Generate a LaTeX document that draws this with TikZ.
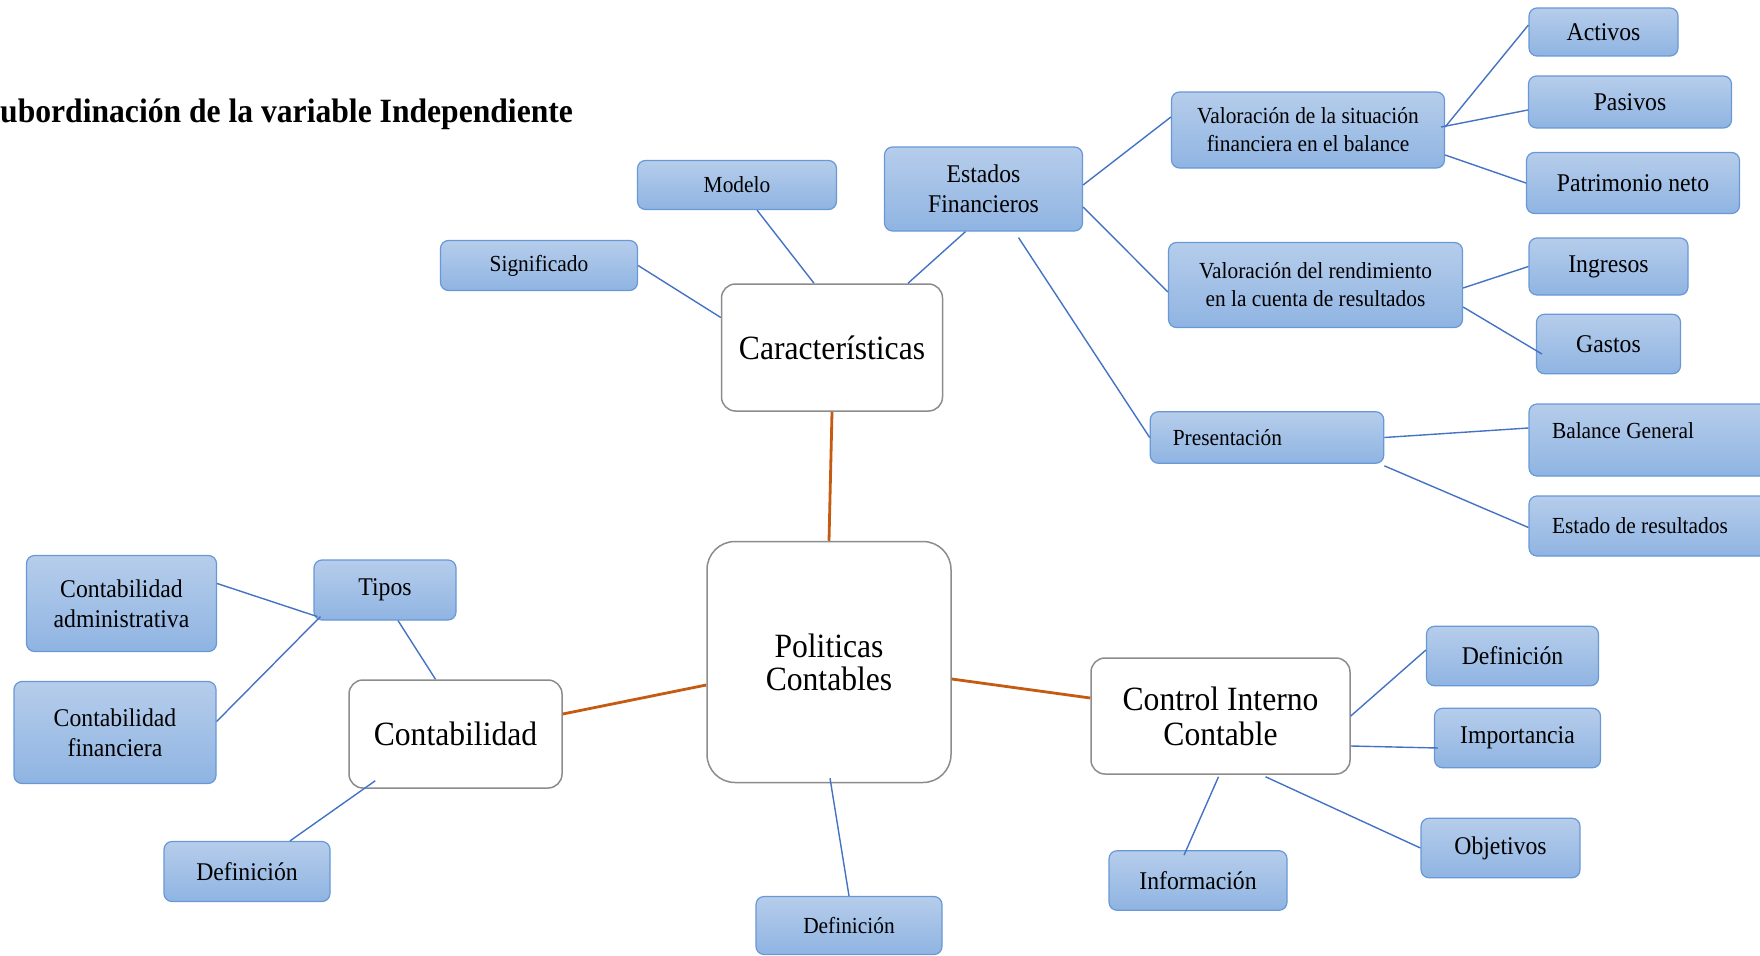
\documentclass[tikz,border=0pt]{standalone}
\usepackage{fontspec}
\setmainfont[FakeStretch=0.93]{Liberation Serif}
\definecolor{hojaborde}{RGB}{104,152,214}
\definecolor{hojaarriba}{RGB}{182,205,235}
\definecolor{hojaabajo}{RGB}{143,180,226}
\definecolor{ramaazul}{RGB}{68,114,196}
\definecolor{tronconaranja}{RGB}{197,90,17}
\definecolor{temaborde}{RGB}{140,140,140}
\begin{document}
\begin{tikzpicture}[x=1pt,y=-1pt]
		\tikzset{hoja/.style = {draw=hojaborde,line width=1.2pt,rounded corners=8pt,top color=hojaarriba,bottom color=hojaabajo,inner sep=0pt,align=center,font=\fontsize{25.5}{30}\selectfont}}
		\tikzset{chica/.style = {font=\fontsize{23}{28}\selectfont}}
		\tikzset{tema/.style = {draw=temaborde,line width=1.5pt,rounded corners=14pt,fill=white,inner sep=0pt,align=center,font=\fontsize{34}{35}\selectfont}}
		\tikzset{rama/.style = {draw=ramaazul,line width=1.4pt}}
		\tikzset{tronco/.style = {draw=tronconaranja,line width=2.8pt}}
		\useasboundingbox (0,0) rectangle (1760,955);
		\node[anchor=base west,inner sep=0pt,font=\fontsize{34}{40}\selectfont\bfseries] (titulo) at (0,122) {ubordinación de la variable Independiente};
		\node[tema,rounded corners=28pt,minimum width=244pt,minimum height=241pt,font=\fontsize{34}{33}\selectfont] (politicas) at (829,662) {Politicas\\Contables};
		\node[tema,minimum width=221pt,minimum height=127pt] (carac) at (832,347.5) {Características};
		\node[tema,minimum width=213pt,minimum height=108pt] (contab) at (455.5,734) {Contabilidad};
		\node[tema,minimum width=259pt,minimum height=116pt] (control) at (1220.5,716) {Control Interno\\Contable};
		\node[hoja,chica,minimum width=199pt,minimum height=49pt] (modelo) at (737,185) {Modelo};
		\node[hoja,chica,minimum width=197pt,minimum height=50pt] (signif) at (539,265.5) {Significado};
		\node[hoja,minimum width=198pt,minimum height=84pt] (estados) at (983.5,189) {Estados\\Financieros};
		\node[hoja,chica,minimum width=273pt,minimum height=76pt] (valsit) at (1308,130) {Valoración de la situación\\financiera en el balance};
		\node[hoja,chica,minimum width=294pt,minimum height=85pt] (valrend) at (1315.5,285) {Valoración del rendimiento\\en la cuenta de resultados};
		\node[hoja,chica,align=flush left,text width=188.5pt,minimum width=233.5pt,minimum height=51.5pt] (present) at (1267,437.5) {Presentación};
		\node[hoja,minimum width=149pt,minimum height=48pt] (activos) at (1603.5,32) {Activos};
		\node[hoja,minimum width=203pt,minimum height=52pt] (pasivos) at (1630,102) {Pasivos};
		\node[hoja,minimum width=213pt,minimum height=61pt] (patrimonio) at (1633,183) {Patrimonio neto};
		\node[hoja,minimum width=159pt,minimum height=57pt] (ingresos) at (1608.5,266.5) {Ingresos};
		\node[hoja,minimum width=144pt,minimum height=59.5pt] (gastos) at (1608.5,344) {Gastos};
		\node[hoja,chica,align=flush left,text width=215pt,text height=16pt,text depth=19pt,minimum width=261pt,minimum height=72pt] (balance) at (1659.5,440) {Balance General};
		\node[hoja,chica,align=flush left,text width=215pt,minimum width=261pt,minimum height=60pt] (estado) at (1659.5,526) {Estado de resultados};
		\node[hoja,minimum width=142pt,minimum height=60pt] (tipos) at (385,590) {Tipos};
		\node[hoja,minimum width=190pt,minimum height=96pt] (admin) at (121.5,603.5) {Contabilidad\\administrativa};
		\node[hoja,minimum width=202pt,minimum height=102pt] (financiera) at (115,732.5) {Contabilidad\\financiera};
		\node[hoja,minimum width=166pt,minimum height=60pt] (defcontab) at (247,871.5) {Definición};
		\node[hoja,chica,minimum width=186pt,minimum height=58pt] (defpolit) at (849,925.5) {Definición};
		\node[hoja,minimum width=172pt,minimum height=59.5pt] (defcontrol) at (1512.5,656) {Definición};
		\node[hoja,minimum width=166pt,minimum height=59.5pt] (importancia) at (1517.5,738) {Importancia};
		\node[hoja,minimum width=159pt,minimum height=59.5pt] (objetivos) at (1500.5,848) {Objetivos};
		\node[hoja,minimum width=178pt,minimum height=59.5pt] (informacion) at (1198,880.5) {Información};
		\path[tronco] (carac.south) edge (politicas.north);
		\path[tronco] ([yshift=-23pt]politicas.west) edge ([yshift=20pt]contab.east);
		\path[tronco] ([yshift=-17pt]politicas.east) edge ([yshift=18pt]control.west);
		\path[rama] ([xshift=-18pt]carac.north) edge ([xshift=20pt]modelo.south);
		\path[rama] ([yshift=30pt]carac.west) edge (signif.east);
		\path[rama] ([xshift=76pt]carac.north) edge ([xshift=-18pt]estados.south);
		\path[rama] ([yshift=4pt]estados.east) edge ([yshift=13pt]valsit.west);
		\path[rama] ([yshift=-18pt]estados.east) edge ([yshift=-7pt]valrend.west);
		\path[rama] ([xshift=35pt,yshift=-6pt]estados.south) edge (present.west);
		\path[rama] ([yshift=3pt]valsit.east) edge ([yshift=7pt]activos.west);
		\path[rama] ([xshift=-4pt,yshift=3pt]valsit.east) edge ([yshift=-8pt]pasivos.west);
		\path[rama] ([yshift=-25pt]valsit.east) edge (patrimonio.west);
		\path[rama] ([yshift=-3pt]valrend.east) edge (ingresos.west);
		\path[rama] ([yshift=-22pt]valrend.east) edge ([xshift=6pt,yshift=-10pt]gastos.west);
		\path[rama] (present.east) edge ([yshift=12pt]balance.west);
		\path[rama] ([yshift=-2pt]present.south east) edge ([yshift=-1.5pt]estado.west);
		\path[rama] ([xshift=1pt,yshift=5pt]politicas.south) edge (defpolit.north);
		\path[rama] ([xshift=-20pt]contab.north) edge ([xshift=13pt]tipos.south);
		\path[rama] ([xshift=4pt,yshift=4pt]tipos.south west) edge ([yshift=20pt]admin.east);
		\path[rama] ([xshift=7pt,yshift=4pt]tipos.south west) edge ([yshift=11pt]financiera.east);
		\path[rama] ([xshift=27pt,yshift=8pt]contab.south west) edge ([xshift=43pt]defcontab.north);
		\path[rama] (control.east) edge ([yshift=6pt]defcontrol.west);
		\path[rama] ([yshift=-30pt]control.east) edge ([xshift=4pt,yshift=-10pt]importancia.west);
		\path[rama] ([xshift=45pt,yshift=-2pt]control.south) edge (objetivos.west);
		\path[rama] ([xshift=-2pt,yshift=-2pt]control.south) edge ([xshift=-14pt,yshift=-5pt]informacion.north);
	\end{tikzpicture}
\end{document}
